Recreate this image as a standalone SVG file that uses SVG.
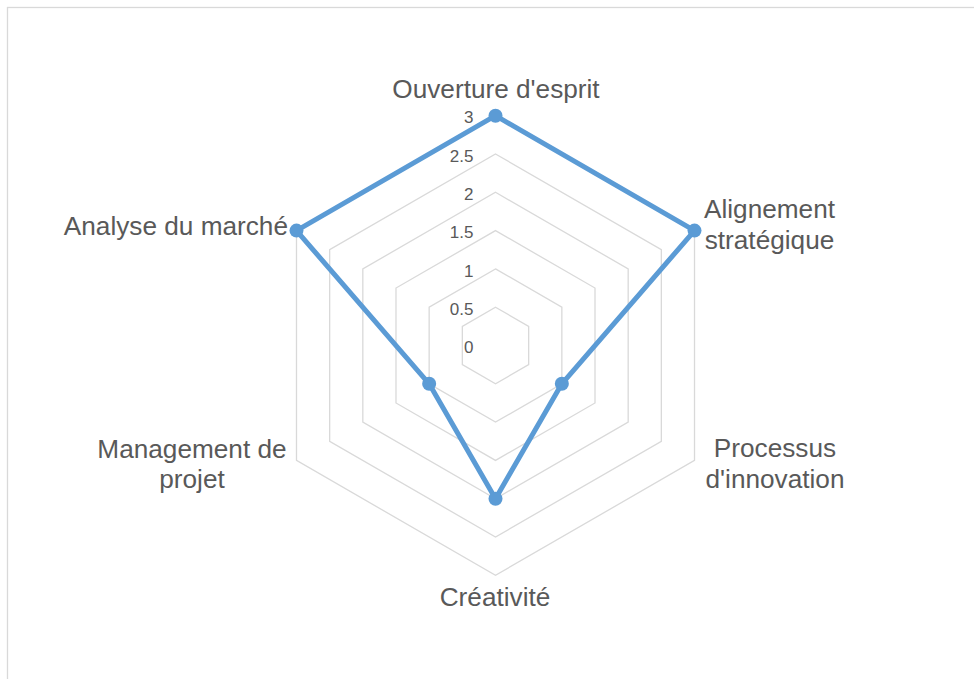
<svg xmlns="http://www.w3.org/2000/svg" width="974" height="679" viewBox="0 0 974 679">
<style>
.grid{fill:none;stroke:#d9d9d9;stroke-width:1.3}
.cat{font-family:"Liberation Sans",Arial,sans-serif;font-size:26.2px;fill:#595959}
.val{font-family:"Liberation Sans",Arial,sans-serif;font-size:17px;fill:#595959;text-anchor:end}
.series{fill:none;stroke:#5b9bd5;stroke-width:5;stroke-linejoin:round}
.mk{fill:#5b9bd5}
</style>
<rect x="0" y="0" width="974" height="679" fill="#ffffff"/>
<rect x="7.5" y="7.5" width="990" height="700" fill="none" stroke="#d9d9d9" stroke-width="1.3"/>
<g id="grid">
<polygon class="grid" points="495.5,307.2 528.67,326.35 528.67,364.65 495.5,383.8 462.33,364.65 462.33,326.35"/>
<polygon class="grid" points="495.5,268.9 561.84,307.2 561.84,383.8 495.5,422.1 429.16,383.8 429.16,307.2"/>
<polygon class="grid" points="495.5,230.6 595.01,288.05 595.01,402.95 495.5,460.4 395.99,402.95 395.99,288.05"/>
<polygon class="grid" points="495.5,192.3 628.18,268.9 628.18,422.1 495.5,498.7 362.82,422.1 362.82,268.9"/>
<polygon class="grid" points="495.5,154 661.34,249.75 661.34,441.25 495.5,537 329.66,441.25 329.66,249.75"/>
<polygon class="grid" points="495.5,115.7 694.51,230.6 694.51,460.4 495.5,575.3 296.49,460.4 296.49,230.6"/>
</g>
<g id="axis-values">
<text class="val" x="473.5" y="353.1">0</text>
<text class="val" x="473.5" y="314.8">0.5</text>
<text class="val" x="473.5" y="276.5">1</text>
<text class="val" x="473.5" y="238.2">1.5</text>
<text class="val" x="473.5" y="199.9">2</text>
<text class="val" x="473.5" y="161.6">2.5</text>
<text class="val" x="473.5" y="123.3">3</text>
</g>
<g id="connectors">
<polygon class="series" points="495.5,115.7 694.51,230.6 561.84,383.8 495.5,498.7 429.16,383.8 296.49,230.6"/>
</g>
<g id="node-ouverture">
<circle class="mk" cx="495.5" cy="115.7" r="7"/>
<text class="cat" x="496" y="98" text-anchor="middle">Ouverture d'esprit</text>
</g>
<g id="node-alignement">
<circle class="mk" cx="694.51" cy="230.6" r="7"/>
<text class="cat" x="769.5" y="218.3" text-anchor="middle">Alignement</text>
<text class="cat" x="769.5" y="249.3" text-anchor="middle">stratégique</text>
</g>
<g id="node-processus">
<circle class="mk" cx="561.84" cy="383.8" r="7"/>
<text class="cat" x="775" y="456.7" text-anchor="middle">Processus</text>
<text class="cat" x="775" y="487.7" text-anchor="middle">d'innovation</text>
</g>
<g id="node-creativite">
<circle class="mk" cx="495.5" cy="498.7" r="7"/>
<text class="cat" x="495" y="606" text-anchor="middle">Créativité</text>
</g>
<g id="node-management">
<circle class="mk" cx="429.16" cy="383.8" r="7"/>
<text class="cat" x="192" y="458.3" text-anchor="middle">Management de</text>
<text class="cat" x="192" y="488.3" text-anchor="middle">projet</text>
</g>
<g id="node-analyse">
<circle class="mk" cx="296.49" cy="230.6" r="7"/>
<text class="cat" x="288" y="235" text-anchor="end">Analyse du marché</text>
</g>
</svg>
